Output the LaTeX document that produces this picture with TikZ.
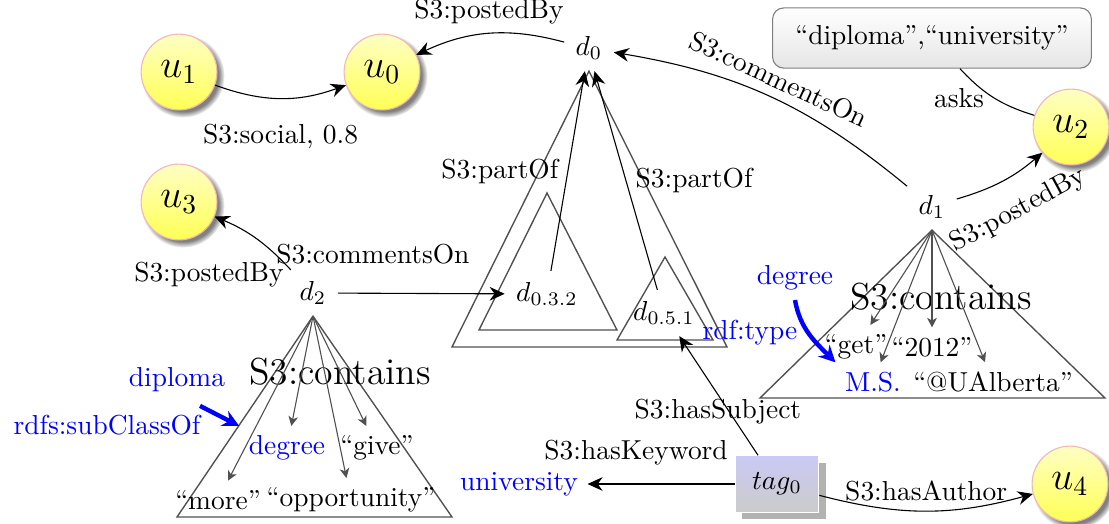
\documentclass[tikz,border=0pt]{standalone}
\usepackage{amsmath,amssymb}
\usepackage{xcolor}
\usepackage{tikz}
\usetikzlibrary{positioning,arrows.meta,shadows,calc}
\definecolor{userYellow}{HTML}{FFFF55}
\definecolor{userRim}{HTML}{F2B8B8}
\definecolor{tagBlue}{HTML}{CACAF6}
\definecolor{tagGray}{HTML}{CBCBCB}
\definecolor{treeGray}{HTML}{505050}

\begin{document}
\begin{tikzpicture}[x=0.0128cm, y=0.0128cm,
    >={Stealth[length=5.5pt, width=5pt, inset=1.8pt]},
    user/.style={circle, draw=userRim, minimum size=0.97cm, inner sep=0pt,
      top color=userYellow!35, bottom color=userYellow, circular drop shadow,
      font=\fontsize{13.7}{16}\selectfont},
    doc/.style={inner sep=4pt},
    tagbox/.style={draw=white, minimum width=1.07cm, minimum height=0.72cm,
      top color=tagBlue, bottom color=tagGray,
      drop shadow={shadow xshift=2.6pt, shadow yshift=-2.6pt, fill=black!30, opacity=1}},
    trigon/.style={draw=treeGray, line width=0.5pt},
    hasterm/.style={draw=treeGray, -{Stealth[length=3.5pt, width=3.5pt, inset=1pt]}},
    bigtxt/.style={font=\fontsize{13.7}{16}\selectfont},
    cls/.style={text=blue},
    subcls/.style={draw=blue, line width=1.6pt, -{Stealth[length=6pt, width=6pt, inset=2pt]}}]
  \useasboundingbox (0,0) rectangle (1109,-523);

  % users
  \node[user] (u1) at (179,-72) {$u_1$};
  \node[user] (u0) at (382,-72) {$u_0$};
  \node[user] (u3) at (179,-202) {$u_3$};
  \node[user] (u2) at (1071,-127) {$u_2$};
  \node[user] (u4) at (1070,-484) {$u_4$};

  % query keywords
  \node[draw=gray, rounded corners=4pt, top color=white, bottom color=gray!20,
    minimum width=4.08cm, minimum height=0.77cm] (kw) at (932,-38) {“diploma”,“university”};

  % documents
  \node[doc] (d0) at (589,-48) {$d_0$};
  \node[doc] (d1) at (932,-207) {$d_1$};
  \node[doc] (d2) at (313,-293) {$d_2$};
  \node[doc] (d032) at (547,-294) {$d_{0.3.2}$};
  \node[doc] (d051) at (664,-313) {$d_{0.5.1}$};

  \node[tagbox] (tag0) at (777,-484) {$tag_0$};
  \node[cls] (univ) at (519,-484) {university};

  % document trees
  \draw[trigon] (d0.south) -- (452,-347) -- (727,-347) -- cycle;
  \draw[trigon] (547,-193) -- (479,-330) -- (617,-330) -- cycle;
  \draw[trigon] (665,-257) -- (617,-340) -- (713,-340) -- cycle;
  \draw[trigon] (d2.south) -- (177,-517) -- (452,-517) -- cycle;
  \draw[trigon] (d1.south) -- (760,-398) -- (1105,-398) -- cycle;

  % terms of d2
  \node[bigtxt] (cont2) at (340,-372) {S3:contains};
  \node[cls] (diploma) at (177,-380) {diploma};
  \node[cls] (subcl) at (107,-425) {rdfs:subClassOf};
  \node[cls] (deg2) at (287,-448) {degree};
  \node (give) at (377,-448) {“give”};
  \node (more) at (218,-500) {“more”};
  \node (opp) at (351,-500) {“opportunity”};
  \foreach \t in {more,deg2,opp,give}
    \draw[hasterm] (d2.south) -- (\t);
  \draw[subcls] ($(diploma.south)+(23,-4)$) -- (deg2.north west);

  % terms of d1
  \node[bigtxt] (cont1) at (941,-297) {S3:contains};
  \node[cls] (deg1) at (795,-278) {degree};
  \node[cls] (rdftype) at (750,-333) {rdf:type};
  \node (get) at (856,-347) {“get”};
  \node (y2012) at (932,-347) {“2012”};
  \node[cls] (ms) at (873,-382) {M.S.};
  \node (ualb) at (993,-382) {“@UAlberta”};
  \foreach \t in {get,ms,y2012,ualb}
    \draw[hasterm] (d1.south) -- (\t);
  \draw[subcls] (deg1.south) to[out=-80, in=135] (ms.north west);

  % relations
  \draw[->] (u1) to[bend right=20] node[below=6pt] (lsocial) {S3:social, 0.8} (u0);
  \draw[->] (d0) to[bend right=20] node[above] (lpost0) {S3:postedBy} (u0);
  \draw[->] (d1) to[bend right=15] node[sloped, above] (lcomm1) {S3:commentsOn} (d0);
  \draw[->] (d1) to[bend right=12] node[sloped, below=4pt] (lpost1) {S3:postedBy} (u2);
  \draw (kw) to[bend right=15] node[left] (lasks) {asks} (u2);
  \draw[->] (d2) to[bend right=12] node[pos=0.08, left=-3pt, yshift=-4pt] (lpost2) {S3:postedBy} (u3);
  \draw[->] (d2) -- node[pos=0.21, above=7pt] (lcomm2) {S3:commentsOn} (d032);
  \draw[->] (d032) -- node[left] (lpart1) {S3:partOf} ([xshift=-1.5pt]d0.south);
  \draw[->] (d051) -- node[right] (lpart2) {S3:partOf} ([xshift=2pt]d0.south);
  \draw[->] (tag0) -- node[pos=0.37, xshift=-4pt] (lsubj) {S3:hasSubject} (d051);
  \draw[->] (tag0) -- node[pos=0.67, above=3.5pt] (lkey) {S3:hasKeyword} (univ);
  \draw[->] (tag0) to[bend right=15] node[above] (lauth) {S3:hasAuthor} (u4);
\end{tikzpicture}
\end{document}
